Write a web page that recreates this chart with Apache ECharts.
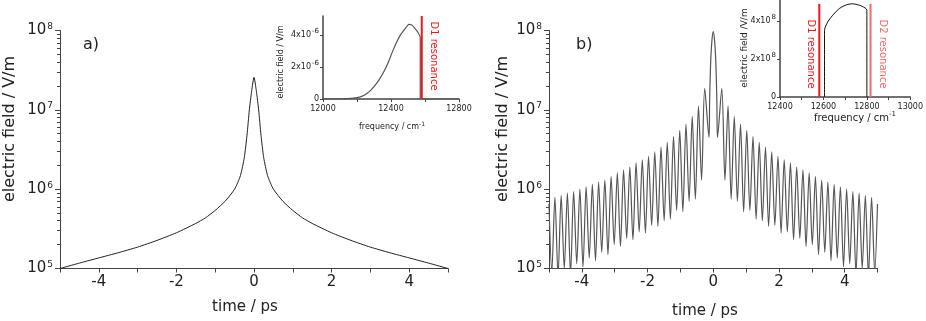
<!DOCTYPE html>
<html>
<head>
<meta charset="utf-8">
<script src="https://cdn.jsdelivr.net/npm/echarts@6/dist/echarts.min.js"></script>
<style>
html, body { margin: 0; padding: 0; background: #fff; }
#chart { width: 926px; height: 321px; }
</style>
</head>
<body>
<div id="chart"></div>
<script>
// panel a) single pulse, time / ps vs field / V/m
const aTime = [-5, -4.5, -4, -3.5, -3, -2.5, -2, -1.5, -1.25, -1, -0.75, -0.5, -0.35, -0.25, -0.18, -0.12, -0.06, 0,
  0.06, 0.12, 0.18, 0.25, 0.35, 0.5, 0.75, 1, 1.25, 1.5, 2, 2.5, 3, 3.5, 4, 4.5, 5];
const aField = [1.0e5, 1.17e5, 1.36e5, 1.58e5, 1.86e5, 2.26e5, 2.82e5, 3.7e5, 4.35e5, 5.4e5, 7.0e5, 1.0e6, 1.48e6, 2.5e6, 4.8e6, 1.0e7, 1.74e7, 2.57e7,
  1.74e7, 1.0e7, 4.8e6, 2.5e6, 1.48e6, 1.0e6, 7.0e5, 5.4e5, 4.35e5, 3.7e5, 2.82e5, 2.26e5, 1.86e5, 1.58e5, 1.36e5, 1.17e5, 1.0e5];

// panel b) beating pulse, central lobe + right half (left half mirrors it)
const bCoreTime = [0, 0.04, 0.08, 0.11];
const bCoreField = [9.7e7, 7.5e7, 3.8e7, 1.3e7];
const bPeakTime = [0.26, 0.45, 0.64, 0.83, 1.02, 1.21, 1.40, 1.59, 1.78, 1.97, 2.16, 2.35, 2.54,
  2.73, 2.92, 3.11, 3.30, 3.49, 3.68, 3.87, 4.06, 4.25, 4.44, 4.63, 4.82];
const bPeakField = [1.86e7, 1.12e7, 8.3e6, 6.6e6, 5.5e6, 4.6e6, 3.9e6, 3.4e6, 2.95e6, 2.6e6, 2.35e6, 2.15e6, 1.9e6,
  1.75e6, 1.6e6, 1.45e6, 1.3e6, 1.23e6, 1.15e6, 1.07e6, 1.0e6, 9.3e5, 8.9e5, 8.3e5, 7.9e5];
const bDipTime = [0.13, 0.355, 0.545, 0.735, 0.925, 1.115, 1.305, 1.495, 1.685, 1.875, 2.065, 2.255, 2.445,
  2.635, 2.825, 3.015, 3.205, 3.395, 3.585, 3.775, 3.965, 4.155, 4.345, 4.535, 4.725, 4.915];
const bDipField = [4.5e6, 1.3e6, 7.5e5, 7.0e5, 5.2e5, 5.4e5, 4.2e5, 4.0e5, 3.4e5, 3.5e5, 2.8e5, 2.9e5, 2.3e5,
  2.4e5, 1.9e5, 2.0e5, 1.5e5, 1.6e5, 1.25e5, 1.35e5, 1.05e5, 1.15e5, 8.5e4, 1.0e5, 8.0e4, 9.0e4];
const bEdgeTime = 5;
const bEdgeField = 6.5e5;

// insets: spectra, frequency / cm-1
const aSpecFreq = [12000, 12140, 12180, 12215, 12245, 12272, 12300, 12330, 12360, 12388, 12410, 12435, 12455,
  12475, 12490, 12505, 12520, 12543, 12560, 12572, 12572, 12800];
const aSpecField = [0, 0.02e-6, 0.05e-6, 0.12e-6, 0.25e-6, 0.46e-6, 0.78e-6, 1.2e-6, 1.75e-6, 2.4e-6, 3.0e-6, 3.6e-6, 4.0e-6,
  4.3e-6, 4.5e-6, 4.67e-6, 4.65e-6, 4.4e-6, 4.15e-6, 3.85e-6, 0, 0];
const bSpecFreq = [12605, 12605, 12620, 12643, 12673, 12700, 12718, 12733, 12755, 12778, 12800, 12800];
const bSpecField = [0, 3.5e8, 3.95e8, 4.3e8, 4.65e8, 4.82e8, 4.88e8, 4.9e8, 4.86e8, 4.77e8, 4.56e8, 0];
const d1Freq = 12581;
const d2Freq = 12817;

const mainTimeLabels = [-4, -2, 0, 2, 4];
const insetALabels = [12000, 12400, 12800];
const insetBLabels = [12400, 12600, 12800, 13000];
const insetAFieldLabels = [0, 2e-6, 4e-6];
const insetBFieldLabels = [0, 2e8, 4e8];

// build panel b series from the arrays
const right = [];
bCoreTime.forEach((t, i) => right.push([t, bCoreField[i]]));
bDipTime.forEach((t, i) => {
  right.push([t, bDipField[i]]);
  if (i < bPeakTime.length) right.push([bPeakTime[i], bPeakField[i]]);
});
right.push([bEdgeTime, bEdgeField]);
const left = right.slice(1).map(([t, v]) => [-t, v]).reverse();
const bData = left.concat(right);

const aData = aTime.map((t, i) => [t, aField[i]]);
const aSpec = aSpecFreq.map((f, i) => [f, aSpecField[i]]);
const bSpec = bSpecFreq.map((f, i) => [f, bSpecField[i]]);

const minorTicks = [];
for (let n = 5; n < 8; n++) for (let k = 2; k < 10; k++) minorTicks.push(k * Math.pow(10, n));

const FONT = 'DejaVu Sans';
const AX = '#444';
const TXT = '#222';

const near = (v, list) => list.some((x) => Math.abs(v - x) <= Math.abs(x) * 1e-6 + 1e-12);

function mainX(gridIndex) {
  return {
    gridIndex, type: 'value', min: -5, max: 5, interval: 1,
    axisLine: { onZero: false, lineStyle: { color: AX, width: 1 } },
    axisTick: { length: 4, lineStyle: { color: AX } },
    axisLabel: {
      margin: 6, color: TXT, fontFamily: FONT, fontSize: 15,
      formatter: (v) => (mainTimeLabels.includes(v) ? String(v) : '')
    },
    splitLine: { show: false }
  };
}
function mainY(gridIndex) {
  return {
    gridIndex, type: 'log', logBase: 10, min: 1e5, max: 1e8, position: 'left',
    axisLine: { show: true, onZero: false, lineStyle: { color: AX, width: 1 } },
    axisTick: { show: true, length: 5, lineStyle: { color: AX } },
    axisLabel: {
      margin: 7, color: TXT,
      formatter: (v) => '{b|10}{s|' + Math.round(Math.log10(v)) + '}',
      rich: {
        b: { fontFamily: FONT, fontSize: 15, color: TXT },
        s: { fontFamily: FONT, fontSize: 9, color: TXT, verticalAlign: 'top', padding: [0, 0, 8, 1] }
      }
    },
    splitLine: { show: false }
  };
}
function minorY(gridIndex) {
  return {
    gridIndex, type: 'log', logBase: 10, min: 1e5, max: 1e8, position: 'left',
    axisLine: { show: false, onZero: false },
    axisTick: { show: true, length: 3, customValues: minorTicks, lineStyle: { color: AX } },
    axisLabel: { show: false },
    splitLine: { show: false }
  };
}

const option = {
  animation: false,
  backgroundColor: '#fff',
  grid: [
    { left: 60, top: 30.5, width: 388, height: 238 },
    { left: 549, top: 30.5, width: 328.5, height: 238 },
    { left: 323, top: 16, width: 136, height: 83 },
    { left: 780, top: 0, width: 132, height: 97 }
  ],
  xAxis: [
    mainX(0),
    mainX(1),
    {
      gridIndex: 2, type: 'value', min: 12000, max: 12800, interval: 200,
      axisLine: { onZero: false, lineStyle: { color: AX, width: 1.5 } },
      axisTick: { length: 3, lineStyle: { color: AX } },
      axisLabel: {
        margin: 6, color: TXT, fontFamily: FONT, fontSize: 8,
        formatter: (v) => (insetALabels.includes(v) ? String(v) : '')
      },
      splitLine: { show: false }
    },
    {
      gridIndex: 3, type: 'value', min: 12400, max: 13000, interval: 100,
      axisLine: { onZero: false, lineStyle: { color: AX, width: 1.5 } },
      axisTick: { length: 3, lineStyle: { color: AX } },
      axisLabel: {
        margin: 6, color: TXT, fontFamily: FONT, fontSize: 8,
        formatter: (v) => (insetBLabels.includes(v) ? String(v) : '')
      },
      splitLine: { show: false }
    }
  ],
  yAxis: [
    mainY(0), minorY(0), mainY(1), minorY(1),
    {
      gridIndex: 2, type: 'value', min: 0, max: 5.2e-6, interval: 2e-6, position: 'left',
      axisLine: { show: true, onZero: false, lineStyle: { color: AX, width: 1.5 } },
      axisTick: { show: true, length: 3, customValues: insetAFieldLabels, lineStyle: { color: AX } },
      axisLabel: {
        margin: 4, color: TXT, customValues: insetAFieldLabels,
        formatter: (v) => (!near(v, insetAFieldLabels) ? '' : v === 0 ? '{m|0}' : '{m|' + Math.round(v * 1e6) + 'x10}{s|-6}'),
        rich: {
          m: { fontFamily: FONT, fontSize: 8, color: TXT },
          s: { fontFamily: FONT, fontSize: 7, color: TXT, verticalAlign: 'top', padding: [0, 0, 7, 1] }
        }
      },
      splitLine: { show: false }
    },
    {
      gridIndex: 3, type: 'value', min: 0, max: 5.1e8, interval: 2e8, position: 'left',
      axisLine: { show: true, onZero: false, lineStyle: { color: AX, width: 1.5 } },
      axisTick: { show: true, length: 3, customValues: insetBFieldLabels, lineStyle: { color: AX } },
      axisLabel: {
        margin: 4, color: TXT, customValues: insetBFieldLabels,
        formatter: (v) => (!near(v, insetBFieldLabels) ? '' : v === 0 ? '{m|0}' : '{m|' + Math.round(v / 1e8) + 'x10}{s|8}'),
        rich: {
          m: { fontFamily: FONT, fontSize: 8, color: TXT },
          s: { fontFamily: FONT, fontSize: 7, color: TXT, verticalAlign: 'top', padding: [0, 0, 7, 1] }
        }
      },
      splitLine: { show: false }
    }
  ],
  series: [
    {
      type: 'line', xAxisIndex: 0, yAxisIndex: 0, data: aData, smooth: 0.2,
      symbol: 'none', lineStyle: { color: '#222', width: 1 }
    },
    {
      type: 'line', xAxisIndex: 1, yAxisIndex: 2, data: bData, smooth: 0.3,
      symbol: 'none', lineStyle: { color: '#555', width: 1.2 }
    },
    {
      type: 'line', xAxisIndex: 2, yAxisIndex: 4, data: aSpec, smooth: 0.3,
      symbol: 'none', lineStyle: { color: '#555', width: 1.2 }
    },
    {
      type: 'line', xAxisIndex: 2, yAxisIndex: 4, data: [[d1Freq, 0], [d1Freq, 5.2e-6]],
      symbol: 'none', lineStyle: { color: '#f01818', width: 2 }
    },
    {
      type: 'line', xAxisIndex: 3, yAxisIndex: 5, data: bSpec, smooth: 0.3,
      symbol: 'none', lineStyle: { color: '#111', width: 1 }
    },
    {
      type: 'line', xAxisIndex: 3, yAxisIndex: 5, data: [[d1Freq, 0], [d1Freq, 4.9e8]],
      symbol: 'none', lineStyle: { color: '#f01818', width: 2 }
    },
    {
      type: 'line', xAxisIndex: 3, yAxisIndex: 5, data: [[d2Freq, 0], [d2Freq, 4.9e8]],
      symbol: 'none', lineStyle: { color: '#f26a6a', width: 2 }
    }
  ],
  graphic: [
    { type: 'text', x: 83, y: 45, style: { text: 'a)', font: '16px ' + FONT, fill: TXT, verticalAlign: 'middle' } },
    { type: 'text', x: 576, y: 45, style: { text: 'b)', font: '16px ' + FONT, fill: TXT, verticalAlign: 'middle' } },
    { type: 'text', x: 10, y: 129, rotation: Math.PI / 2,
      style: { text: 'electric field / V/m', font: '16px ' + FONT, fill: TXT, align: 'center', verticalAlign: 'middle' } },
    { type: 'text', x: 503, y: 129, rotation: Math.PI / 2,
      style: { text: 'electric field / V/m', font: '16px ' + FONT, fill: TXT, align: 'center', verticalAlign: 'middle' } },
    { type: 'text', x: 245, y: 307,
      style: { text: 'time / ps', font: '15px ' + FONT, fill: TXT, align: 'center', verticalAlign: 'middle' } },
    { type: 'text', x: 705, y: 311,
      style: { text: 'time / ps', font: '15px ' + FONT, fill: TXT, align: 'center', verticalAlign: 'middle' } },
    { type: 'text', x: 281, y: 62, rotation: Math.PI / 2,
      style: { text: 'electric field / V/m', font: '8px ' + FONT, fill: TXT, align: 'center', verticalAlign: 'middle' } },
    { type: 'text', x: 745, y: 48, rotation: Math.PI / 2,
      style: { text: 'electric field /V/m', font: '9px ' + FONT, fill: TXT, align: 'center', verticalAlign: 'middle' } },
    { type: 'text', x: 392, y: 127,
      style: { text: '{m|frequency / cm}{s|-1}', align: 'center', verticalAlign: 'middle',
        rich: { m: { fontFamily: FONT, fontSize: 8, fill: TXT }, s: { fontFamily: FONT, fontSize: 6, fill: TXT, verticalAlign: 'top', padding: [0, 0, 6, 0] } } } },
    { type: 'text', x: 855, y: 118,
      style: { text: '{m|frequency / cm}{s|-1}', align: 'center', verticalAlign: 'middle',
        rich: { m: { fontFamily: FONT, fontSize: 10, fill: TXT }, s: { fontFamily: FONT, fontSize: 7, fill: TXT, verticalAlign: 'top', padding: [0, 0, 7, 0] } } } },
    { type: 'text', x: 434, y: 56, rotation: -Math.PI / 2,
      style: { text: 'D1 resonance', font: '10px ' + FONT, fill: '#f01818', align: 'center', verticalAlign: 'middle' } },
    { type: 'text', x: 811, y: 54, rotation: -Math.PI / 2,
      style: { text: 'D1 resonance', font: '10px ' + FONT, fill: '#f01818', align: 'center', verticalAlign: 'middle' } },
    { type: 'text', x: 883, y: 54, rotation: -Math.PI / 2,
      style: { text: 'D2 resonance', font: '10px ' + FONT, fill: '#f26a6a', align: 'center', verticalAlign: 'middle' } }
  ]
};

const chart = echarts.init(document.getElementById('chart'), null, { renderer: 'canvas' });
chart.setOption(option);
</script>
</body>
</html>
